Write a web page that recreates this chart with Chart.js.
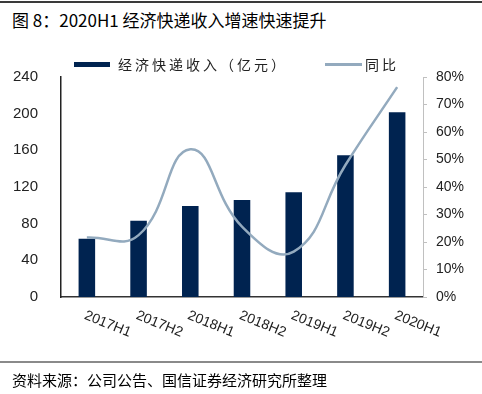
<!DOCTYPE html>
<html><head><meta charset="utf-8">
<script src="https://cdn.jsdelivr.net/npm/chart.js@4/dist/chart.umd.min.js"></script>
<style>
html,body{margin:0;padding:0;background:#fff;}
#wrap{position:relative;width:482px;height:394px;overflow:hidden;font-family:"Noto Sans CJK SC",sans-serif;}
#c{position:absolute;left:0;top:0;}
.topline{position:absolute;left:0;top:1px;width:482px;height:2px;background:#3a3a3a;}
.botline{position:absolute;left:0;top:361px;width:482px;height:2px;background:#8a8a8a;}
.title{position:absolute;left:12px;top:9px;font-size:17px;line-height:22px;color:#000;white-space:nowrap;}
.footer{position:absolute;left:12px;top:370px;font-size:15px;line-height:20px;color:#000;white-space:nowrap;}
.lg{position:absolute;font-size:14px;line-height:18px;letter-spacing:3px;color:#222;white-space:nowrap;}
.lgbox{position:absolute;}
</style>
</head><body>
<div id="wrap">
<div class="topline"></div>
<div class="title">图 8：2020H1 经济快递收入增速快速提升</div>
<canvas id="c" width="482" height="394"></canvas>
<div class="lgbox" style="left:74px;top:62px;width:36px;height:5px;background:#002350;"></div>
<div class="lg" style="left:118px;top:55px;">经济快递收入（亿元）</div>
<div class="lgbox" style="left:325px;top:63px;width:37px;height:2.5px;background:#93aabe;"></div>
<div class="lg" style="left:365px;top:55px;">同比</div>
<div class="botline"></div>
<div class="footer">资料来源：公司公告、国信证券经济研究所整理</div>
</div>
<script>
const categories = ['2017H1','2017H2','2018H1','2018H2','2019H1','2019H2','2020H1'];
const revenue = [63.6, 83.2, 99.3, 105.8, 114.2, 154.6, 201.5];
const growth = [21.6, 22.5, 53.7, 25.6, 16.5, 48.0, 76.3];
const leftMin = 0, leftMax = 240, leftStep = 40;
const rightMin = 0, rightMax = 80, rightStep = 10;

const xLabelPlugin = {
  id: 'xLabels',
  afterDraw(chart) {
    const ctx = chart.ctx;
    const xs = chart.scales.x;
    const labels = chart.data.labels;
    ctx.save();
    ctx.font = '14px "Liberation Sans", Arial, sans-serif';
    ctx.fillStyle = '#222';
    ctx.textAlign = 'left';
    ctx.textBaseline = 'middle';
    labels.forEach((lab, i) => {
      const x = xs.getPixelForTick(i);
      ctx.save();
      ctx.translate(x - 2, chart.chartArea.bottom + 18);
      ctx.rotate(22 * Math.PI / 180);
      ctx.fillText(lab, 0, 0);
      ctx.restore();
    });
    ctx.restore();
  }
};

new Chart(document.getElementById('c'), {
  data: {
    labels: categories,
    datasets: [
      {
        type: 'line',
        label: '同比',
        data: growth,
        yAxisID: 'y1',
        borderColor: '#93aabe',
        borderWidth: 2.5,
        pointRadius: 0,
        tension: 0.45,
        fill: false,
        order: 0
      },
      {
        type: 'bar',
        label: '经济快递收入（亿元）',
        data: revenue,
        yAxisID: 'y',
        backgroundColor: '#002350',
        barPercentage: 0.32,
        categoryPercentage: 1.0,
        order: 1
      }
    ]
  },
  options: {
    responsive: false,
    animation: false,
    layout: { padding: { top: 77, left: 0, right: 0, bottom: 0 } },
    plugins: { legend: { display: false }, tooltip: { enabled: false }, title: { display: false } },
    scales: {
      x: {
        grid: { display: false },
        border: { color: '#333', width: 1.5 },
        ticks: { display: false },
        afterFit(s) { s.height = 97; }
      },
      y: {
        position: 'left',
        min: leftMin, max: leftMax,
        ticks: { stepSize: leftStep, font: { family: 'Liberation Sans', size: 15 }, color: '#222', padding: 15 },
        grid: { display: false },
        border: { color: '#222', width: 1.5 },
        afterFit(s) { s.width = 61; }
      },
      y1: {
        position: 'right',
        min: rightMin, max: rightMax,
        ticks: { stepSize: rightStep, callback: v => v + '%', font: { family: 'Liberation Sans', size: 14 }, color: '#222', padding: 9 },
        grid: { display: true, drawOnChartArea: false, drawTicks: true, tickLength: 4, color: '#c0c0c0' },
        border: { color: '#c0c0c0', width: 1 },
        afterFit(s) { s.width = 59; }
      }
    }
  },
  plugins: [xLabelPlugin]
});
</script>
</body></html>
